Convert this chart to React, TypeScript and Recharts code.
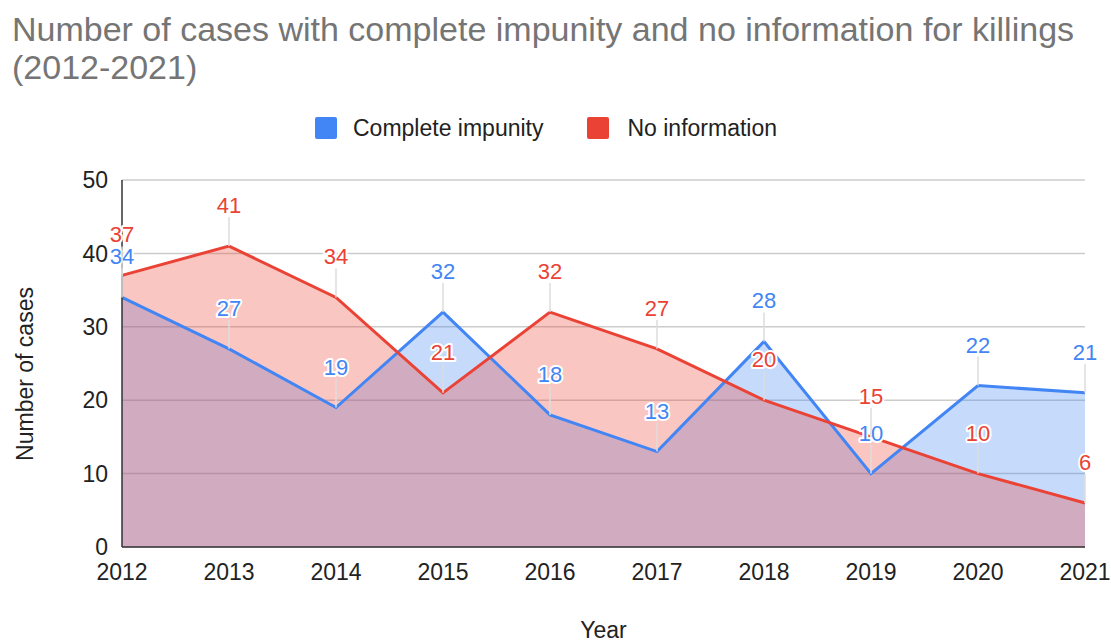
import React from 'react';
import {
  ComposedChart, Area, Line, XAxis, YAxis, CartesianGrid, LabelList, Label
} from 'recharts';

const years = ['2012', '2013', '2014', '2015', '2016', '2017', '2018', '2019', '2020', '2021'];
const impunity = [34, 27, 19, 32, 18, 13, 28, 10, 22, 21];
const noInfo = [37, 41, 34, 21, 32, 27, 20, 15, 10, 6];
const yTicks = [0, 10, 20, 30, 40, 50];

const BLUE = '#4285F4';
const RED = '#EA4335';
const FONT = '"Liberation Sans", Arial, sans-serif';

const data = years.map((year, i) => ({ year, impunity: impunity[i], noInfo: noInfo[i] }));

// data label with a short leader line down to the point
const makeLabel = (color: string) => (props: any) => {
  const { x, y, value } = props;
  if (x == null || y == null) return null;
  return (
    <g>
      <line x1={x} x2={x} y1={y - 29} y2={y} stroke="#dddddd" strokeWidth={1.5} />
      <text
        x={x}
        y={y - 33}
        textAnchor="middle"
        fontSize={22}
        fontFamily={FONT}
        fill={color}
        stroke="#ffffff"
        strokeWidth={4}
        strokeLinejoin="round"
        paintOrder="stroke"
      >
        {value}
      </text>
    </g>
  );
};

const App: React.FC = () => {
  return (
    <div style={{ position: 'absolute', left: 0, top: 0, width: 1111, height: 643, fontFamily: FONT, background: '#fff' }}>
      <div style={{ position: 'absolute', left: 12, top: 10, fontSize: 34, lineHeight: '38px', color: '#757575', whiteSpace: 'nowrap' }}>
        Number of cases with complete impunity and no information for killings
        <br />
        (2012-2021)
      </div>

      <div style={{ position: 'absolute', top: 117, left: 315, height: 22, display: 'flex', alignItems: 'center', fontSize: 23, color: '#222' }}>
        <span style={{ display: 'inline-block', width: 22, height: 22, background: BLUE, borderRadius: 2, marginRight: 16 }} />
        <span style={{ marginRight: 44 }}>Complete impunity</span>
        <span style={{ display: 'inline-block', width: 22, height: 22, background: RED, borderRadius: 2, marginRight: 18 }} />
        <span>No information</span>
      </div>

      <ComposedChart
        width={1111}
        height={643}
        data={data}
        margin={{ top: 180, right: 26, bottom: 0, left: 0 }}
        style={{ position: 'absolute', left: 0, top: 0 }}
      >
        <CartesianGrid horizontal vertical={false} stroke="#cccccc" strokeWidth={1.5} />
        <XAxis
          dataKey="year"
          height={96}
          axisLine={{ stroke: '#333333', strokeWidth: 1.5 }}
          tickLine={false}
          tickSize={0}
          tickMargin={17}
          interval={0}
          tick={{ fontSize: 23, fill: '#222222', fontFamily: FONT }}
        >
          <Label
            content={({ viewBox }: any) => (
              <text x={viewBox.x + viewBox.width / 2} y={638} textAnchor="middle" fontSize={23} fill="#222222" fontFamily={FONT}>
                Year
              </text>
            )}
          />
        </XAxis>
        <YAxis
          width={122}
          domain={[0, 50]}
          ticks={yTicks}
          axisLine={{ stroke: '#333333', strokeWidth: 1.5 }}
          tickLine={false}
          tickSize={0}
          tickMargin={14}
          tick={{ fontSize: 23, fill: '#222222', fontFamily: FONT }}
        >
          <Label
            content={() => (
              <text
                x={33}
                y={374}
                transform="rotate(-90, 33, 374)"
                textAnchor="middle"
                fontSize={23}
                fill="#222222"
                fontFamily={FONT}
              >
                Number of cases
              </text>
            )}
          />
        </YAxis>
        <Area type="linear" dataKey="impunity" stroke="none" fill={BLUE} fillOpacity={0.3}
          dot={false} activeDot={false} isAnimationActive={false} />
        <Area type="linear" dataKey="noInfo" stroke="none" fill={RED} fillOpacity={0.3}
          dot={false} activeDot={false} isAnimationActive={false} />
        <Line type="linear" dataKey="impunity" stroke={BLUE} strokeWidth={3} dot={false} activeDot={false} isAnimationActive={false}>
          <LabelList dataKey="impunity" content={makeLabel(BLUE)} />
        </Line>
        <Line type="linear" dataKey="noInfo" stroke={RED} strokeWidth={3} dot={false} activeDot={false} isAnimationActive={false}>
          <LabelList dataKey="noInfo" content={makeLabel(RED)} />
        </Line>
      </ComposedChart>
    </div>
  );
};

export default App;
